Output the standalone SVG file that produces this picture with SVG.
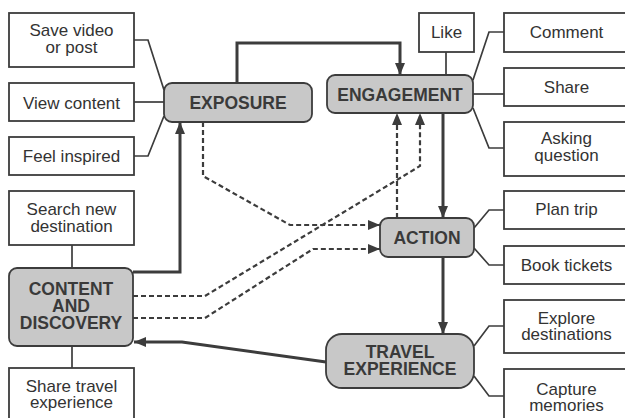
<svg xmlns="http://www.w3.org/2000/svg" width="625" height="418" viewBox="0 0 625 418">
<defs>
<marker id="ah" markerUnits="userSpaceOnUse" markerWidth="12" markerHeight="10" viewBox="0 0 12 10" refX="12" refY="5" orient="auto">
<path d="M0,0 L12,5 L0,10 Z" fill="#3c3c3c"/>
</marker>
<style>
.box{fill:#fff;stroke:#3c3c3c;stroke-width:1.8}
.node{fill:#c8c8c8;stroke:#3c3c3c;stroke-width:1.8}
.t{font-family:"Liberation Sans",Arial,sans-serif;font-size:17px;fill:#333;text-anchor:middle}
.b{font-family:"Liberation Sans",Arial,sans-serif;font-size:17.5px;font-weight:bold;fill:#3a3a3a;text-anchor:middle}
.thin{fill:none;stroke:#3c3c3c;stroke-width:1.7}
.thick{fill:none;stroke:#3c3c3c;stroke-width:3;marker-end:url(#ah)}
.dash{fill:none;stroke:#3c3c3c;stroke-width:2.2;stroke-dasharray:5 3;marker-end:url(#ah)}
</style>
</defs>
<g id="connectors">
<path class="thin" d="M134,40 H148 L164,90"/>
<path class="thin" d="M134,102 H164"/>
<path class="thin" d="M134,156 H148 L164,116"/>
<path class="thin" d="M446,52 V75"/>
<path class="thin" d="M473,80 L489,32 H504"/>
<path class="thin" d="M473,94 H504"/>
<path class="thin" d="M473,108 L489,148 H504"/>
<path class="thin" d="M474,228 L489,210 H504"/>
<path class="thin" d="M474,248 L489,265 H504"/>
<path class="thin" d="M474,346 L489,326 H504"/>
<path class="thin" d="M474,376 L489,396 H504"/>
<path class="thin" d="M72,245 V268"/>
<path class="thin" d="M72,346 V368"/>
<path class="thick" d="M237,83 V43 H400 V75"/>
<path class="thick" d="M443,113 V218"/>
<path class="thick" d="M443,257 V334"/>
<path class="thick" d="M133,272 H180 V122"/>
<path class="thick" d="M326,362 L182,342 H134"/>
<path class="dash" d="M203,122 V176 L290,225 H380"/>
<path class="dash" d="M397,218 V113"/>
<path class="dash" d="M133,296 H205 L420,166 V113"/>
<path class="dash" d="M133,318 H205 L313,249 H380"/>
</g>
<g id="save-video"><rect class="box" x="9" y="13" width="125" height="54"/><text class="t" x="71.5" y="36">Save video</text><text class="t" x="71.5" y="53">or post</text></g>
<g id="view-content"><rect class="box" x="9" y="83" width="125" height="38"/><text class="t" x="71.5" y="109">View content</text></g>
<g id="feel-inspired"><rect class="box" x="9" y="137" width="125" height="38"/><text class="t" x="71.5" y="162">Feel inspired</text></g>
<g id="search-new"><rect class="box" x="9" y="191" width="125" height="54"/><text class="t" x="71.5" y="215">Search new</text><text class="t" x="71.5" y="232">destination</text></g>
<g id="share-travel"><rect class="box" x="9" y="368" width="125" height="60"/><text class="t" x="71.5" y="392">Share travel</text><text class="t" x="71.5" y="408">experience</text></g>
<g id="exposure"><rect class="node" x="164" y="83" width="148" height="39" rx="8"/><text class="b" x="238" y="109">EXPOSURE</text></g>
<g id="engagement"><rect class="node" x="327" y="75" width="146" height="38" rx="8"/><text class="b" x="400" y="101">ENGAGEMENT</text></g>
<g id="action"><rect class="node" x="380" y="218" width="94" height="39" rx="8"/><text class="b" x="427" y="244">ACTION</text></g>
<g id="travel-experience"><rect class="node" x="326" y="334" width="148" height="54" rx="16"/><text class="b" x="400" y="358">TRAVEL</text><text class="b" x="400" y="375">EXPERIENCE</text></g>
<g id="content-discovery"><rect class="node" x="9" y="268" width="124" height="78" rx="8"/><text class="b" x="71" y="295">CONTENT</text><text class="b" x="71" y="312">AND</text><text class="b" x="71" y="329">DISCOVERY</text></g>
<g id="like"><rect class="box" x="419" y="13" width="55" height="39"/><text class="t" x="446.5" y="38">Like</text></g>
<g id="comment"><rect class="box" x="504" y="13" width="125" height="39"/><text class="t" x="566.5" y="38">Comment</text></g>
<g id="share"><rect class="box" x="504" y="68" width="125" height="38"/><text class="t" x="566.5" y="93">Share</text></g>
<g id="asking"><rect class="box" x="504" y="122" width="125" height="54"/><text class="t" x="566.5" y="144">Asking</text><text class="t" x="566.5" y="161">question</text></g>
<g id="plan-trip"><rect class="box" x="504" y="191" width="125" height="38"/><text class="t" x="566.5" y="215">Plan trip</text></g>
<g id="book-tickets"><rect class="box" x="504" y="246" width="125" height="38"/><text class="t" x="566.5" y="271">Book tickets</text></g>
<g id="explore"><rect class="box" x="504" y="300" width="125" height="53"/><text class="t" x="566.5" y="324">Explore</text><text class="t" x="566.5" y="340">destinations</text></g>
<g id="capture"><rect class="box" x="504" y="369" width="125" height="60"/><text class="t" x="566.5" y="395">Capture</text><text class="t" x="566.5" y="411">memories</text></g>
</svg>
